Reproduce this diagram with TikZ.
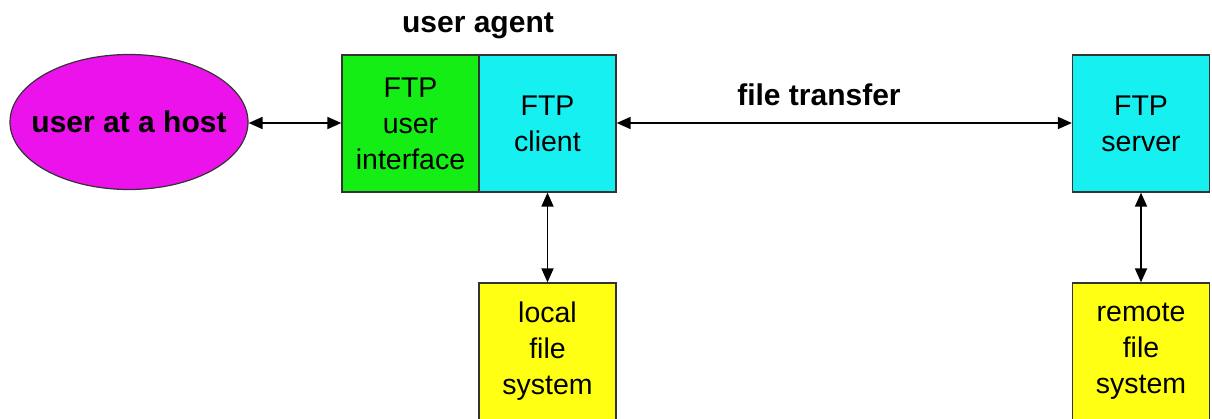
\documentclass[tikz,border=0pt]{standalone}
\usepackage{fontspec}
\setmainfont{Liberation Sans}
\usetikzlibrary{arrows.meta,shapes.geometric}
\definecolor{hostpink}{RGB}{236,18,236}
\definecolor{uigreen}{RGB}{20,238,20}
\definecolor{ftpcyan}{RGB}{22,240,240}
\definecolor{fsyellow}{RGB}{255,255,20}
\tikzset{
  box/.style={draw=black!80, line width=1.3pt, inner sep=0pt, minimum width=137pt, minimum height=137pt},
  lbl/.style={align=center, font=\fontsize{28.5}{36}\selectfont},
  head/.style={font=\fontsize{30}{34}\selectfont\bfseries},
  link/.style={line width=1.8pt, {Triangle[length=14pt,width=12pt]}-{Triangle[length=14pt,width=12pt]}}
}
\begin{document}
\begin{tikzpicture}[x=1pt,y=-1pt]
  \useasboundingbox (0,0) rectangle (1212,418);
  \clip (0,0) rectangle (1212,418);
  \fill[white] (0,0) rectangle (1212,418);

  % user and the two halves of the user agent
  \node[ellipse, draw=black!80, line width=1.2pt, fill=hostpink, minimum width=238pt, minimum height=135pt, inner sep=0pt] (host) at (129,122) {};
  \node[head] at (host.center) {user at a host};
  \node[box, fill=uigreen] (ui) at (410.5,123.5) {};
  \node[lbl] at (ui.center) {FTP\\user\\interface};
  \node[box, fill=ftpcyan] (client) at (547.5,123.5) {};
  \node[lbl] at (client.center) {FTP\\client};
  \node[head] (agent) at (478,26) {user agent};

  % server side
  \node[box, fill=ftpcyan] (server) at (1141,123.5) {};
  \node[lbl] at (server.center) {FTP\\server};

  % file systems at the bottom
  \node[box, fill=fsyellow] (local) at (547.5,351.5) {};
  \node[lbl] at (547.5,351) {local\\file\\system};
  \node[box, fill=fsyellow] (remote) at (1141,351.5) {};
  \node[lbl] at (1141,351) {remote\\file\\system};

  % connectors
  \draw[link] (host.east |- 0,123) -- (ui.west |- 0,123);
  \draw[link] (client.east |- 0,123) -- (server.west |- 0,123);
  \node[head] (transfer) at (819,95) {file transfer};
  \draw[link] (client.south) -- (local.north);
  \draw[link] (server.south) -- (remote.north);
\end{tikzpicture}
\end{document}
